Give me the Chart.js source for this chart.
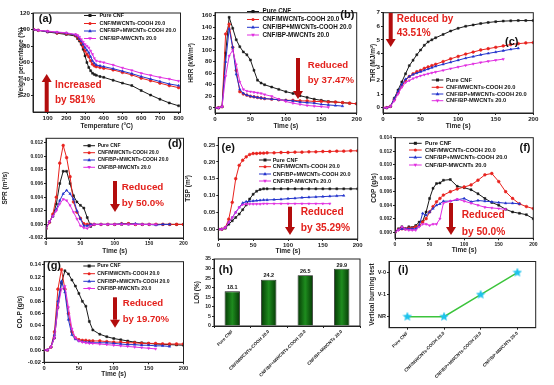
<!DOCTYPE html>
<html>
<head>
<meta charset="utf-8">
<title>CNF flame retardancy</title>
<script src="https://cdn.jsdelivr.net/npm/chart.js@4.4.1/dist/chart.umd.min.js"></script>
<style>
  body { margin: 0; background: #fff; }
  #wrap { position: relative; width: 554px; height: 385px; overflow: hidden; background: #fff; }
  #wrap canvas { position: absolute; }
</style>
</head>
<body>
<div id="wrap"></div>
<script>
// =====================================================
// DATA
// =====================================================
const sampleNames = ["Pure CNF", "CNF/MWCNTs-COOH 20.0", "CNF/BP+MWCNTs-COOH 20.0", "CNF/BP-MWCNTs 20.0"];

// (a) TGA
const tgaTemp   = [25, 50, 100, 150, 200, 250, 260, 270, 280, 290, 300, 310, 320, 330, 340, 350, 360, 380, 400, 450, 500, 550, 600, 650, 700, 750, 800];
const tgaPure   = [100, 99, 97, 95.5, 94, 92, 89, 86, 82, 76, 68, 60, 54, 50, 47, 45.5, 44.5, 43, 42, 38.5, 35, 32, 26, 20.5, 15.5, 11, 7.5];
const tgaMw     = [100, 99, 97.5, 96, 95, 93, 91, 88, 84, 79, 74, 70, 67, 62, 58, 56, 55, 54, 53, 51, 48, 45, 41, 38, 35, 32, 29.5];
const tgaBpMw   = [100, 99, 97.5, 96.5, 95.5, 93.5, 92, 89, 86, 82, 78, 75, 72, 67, 62, 59, 57, 56, 55, 52.5, 49.5, 46.5, 43, 40, 37, 34, 32];
const tgaBp     = [100, 99, 98, 97, 96, 94, 93, 91, 88, 85, 82, 80, 78, 74, 70, 65, 62, 61, 60, 57, 53.5, 50.5, 47, 44.5, 42, 40, 37.5];

// cone calorimeter time axis (s)
const timeS = [0, 5, 10, 15, 20, 25, 30, 35, 40, 45, 50, 55, 60, 65, 70, 80, 90, 100, 110, 120, 130, 140, 150, 160, 170, 180, 190, 200];

// (b) HRR
const hrrPure = [0, 0, 2, 95, 157, 138, 118, 106, 97, 92, 83, 65, 48, 43, 40, 36, 32, 28, 25, 21, 18, 15, 13, 11, 10, 9, 8, 7];
const hrrMw   = [0, 0, 2, 128, 145, 105, 65, 28, 24, 22, 20, 19, 18, 17, 16, 15, 14, 13, 13, 12, 12, 11, 11, 10, 10, 9, 8, 7];
const hrrBpMw = [0, 0, 2, 80, 137, 105, 58, 32, 25, 22, 20, 19, 18, 17, 16, 15, 14, 13, 12, 10, 9, 8, 6, 5, 4, 3];
const hrrBp   = [0, 0, 2, 55, 90, 100, 75, 45, 32, 29, 28, 27, 26, 25, 23, 20, 15, 11, 8, 6, 4, 3, 2, 1];

// (c) THR
const thrPure = [0, 0, 0.1, 0.7, 1.3, 1.9, 2.5, 3.1, 3.5, 3.9, 4.25, 4.6, 4.85, 5.0, 5.15, 5.4, 5.65, 5.85, 6.0, 6.1, 6.2, 6.28, 6.34, 6.38, 6.4, 6.42, 6.42, 6.42];
const thrMw   = [0, 0, 0.1, 0.6, 1.1, 1.6, 2.0, 2.3, 2.5, 2.65, 2.75, 2.9, 3.0, 3.1, 3.2, 3.4, 3.6, 3.78, 3.95, 4.1, 4.25, 4.35, 4.45, 4.55, 4.65, 4.72, 4.77, 4.8];
const thrBpMw = [0, 0, 0.1, 0.65, 1.2, 1.7, 2.1, 2.3, 2.45, 2.55, 2.65, 2.75, 2.85, 2.95, 3.05, 3.2, 3.35, 3.5, 3.65, 3.77, 3.9, 4.0, 4.1, 4.2, 4.3, 4.38];
const thrBp   = [0, 0, 0.1, 0.5, 1.0, 1.5, 1.85, 2.0, 2.15, 2.25, 2.35, 2.43, 2.5, 2.57, 2.63, 2.75, 2.88, 3.0, 3.12, 3.23, 3.33, 3.42, 3.5, 3.58];

// (d) SPR
const sprPure = [-0.0006, 0.0004, 0.0012, 0.003, 0.006, 0.0078, 0.0078, 0.006, 0.0042, 0.0033, 0.0028, 0.0024, 0.001, -0.0003, 0, 0, 0, 0, 0, 0.0001, 0, 0, 0, 0, 0, 0, 0, 0];
const sprMw   = [-0.0006, 0.0003, 0.0015, 0.004, 0.009, 0.0116, 0.0098, 0.007, 0.0033, 0.0018, 0.0009, 0.0001, 0, 0, 0, 0, 0, 0, 0.0001, 0.0001, 0, 0, 0, 0, 0, 0, 0, 0];
const sprBpMw = [-0.0006, 0.0004, 0.0012, 0.0022, 0.0035, 0.0045, 0.005, 0.0045, 0.0037, 0.002, 0.0008, -0.0002, -0.0002, 0, 0, 0, 0, 0, 0.0001, 0, 0.0001, 0, 0, -0.0001, 0, 0];
const sprBp   = [-0.0006, 0.0004, 0.0012, 0.002, 0.003, 0.0037, 0.0035, 0.0028, 0.0018, 0.0008, -0.0002, -0.0005, -0.0006, -0.0002, 0, 0, 0, 0, 0, 0, 0, 0, 0, 0];

// (e) TSP
const tspPure = [0, 0, 0.003, 0.015, 0.025, 0.035, 0.045, 0.058, 0.072, 0.09, 0.104, 0.113, 0.118, 0.12, 0.12, 0.12, 0.12, 0.12, 0.12, 0.12, 0.12, 0.12, 0.12, 0.12, 0.12, 0.12, 0.12, 0.12];
const tspMw   = [0, 0, 0.005, 0.03, 0.08, 0.15, 0.19, 0.205, 0.215, 0.222, 0.225, 0.225, 0.226, 0.226, 0.227, 0.227, 0.228, 0.228, 0.229, 0.229, 0.23, 0.23, 0.231, 0.231, 0.232, 0.232, 0.233, 0.233];
const tspBpMw = [0, 0, 0.005, 0.02, 0.035, 0.05, 0.065, 0.078, 0.082, 0.083, 0.084, 0.085, 0.086, 0.087, 0.087, 0.088, 0.089, 0.091, 0.092, 0.094, 0.095, 0.096, 0.097, 0.098, 0.099, 0.1];
const tspBp   = [0, 0, 0.005, 0.02, 0.035, 0.05, 0.065, 0.073, 0.075, 0.075, 0.075, 0.075, 0.075, 0.076, 0.076, 0.076, 0.076, 0.076, 0.076, 0.076, 0.076, 0.076, 0.076, 0.076];

// (f) COP
const copPure = [0, 0.0005, 0.0008, 0.0005, 0.0008, 0.0007, 0.001, 0.0015, 0.0016, 0.003, 0.005, 0.0065, 0.0072, 0.0073, 0.0077, 0.0078, 0.0068, 0.0066, 0.0063, 0.0057, 0.005, 0.0044, 0.004, 0.0034, 0.003, 0.0028, 0.0026, 0.002];
const copMw   = [0, 0.0004, 0.0005, 0.0005, 0.0006, 0.0006, 0.0008, 0.001, 0.0015, 0.002, 0.003, 0.0038, 0.0045, 0.005, 0.0055, 0.006, 0.0064, 0.0067, 0.007, 0.0077, 0.0085, 0.0087, 0.0075, 0.006, 0.005, 0.0042, 0.0038, 0.0035];
const copBpMw = [0, 0.0004, 0.0005, 0.0005, 0.0005, 0.0005, 0.0005, 0.001, 0.0028, 0.0025, 0.003, 0.0035, 0.004, 0.0042, 0.0046, 0.0046, 0.0048, 0.005, 0.0045, 0.0047, 0.0046, 0.0045, 0.0044, 0.0043, 0.0043, 0.0042];
const copBp   = [0, 0.0003, 0.0008, 0.0004, 0.0003, 0.0003, 0.0003, 0.0008, 0.0012, 0.0012, 0.001, 0.0012, 0.0012, 0.002, 0.0043, 0.0046, 0.0049, 0.0046, 0.0043, 0.004, 0.0037, 0.0036, 0.0035, 0.0034];

// (g) CO2P
const co2Pure = [0, 0, 0.005, 0.02, 0.07, 0.11, 0.13, 0.125, 0.115, 0.105, 0.093, 0.08, 0.072, 0.047, 0.033, 0.026, 0.022, 0.019, 0.017, 0.015, 0.013, 0.012, 0.011, 0.01, 0.0095, 0.009, 0.0085, 0.008];
const co2Mw   = [0, 0, 0.005, 0.03, 0.1, 0.132, 0.1, 0.06, 0.03, 0.02, 0.017, 0.016, 0.016, 0.015, 0.015, 0.015, 0.014, 0.013, 0.013, 0.012, 0.012, 0.011, 0.011, 0.011, 0.01, 0.01, 0.01, 0.01];
const co2BpMw = [0, 0, 0.005, 0.025, 0.08, 0.113, 0.095, 0.05, 0.025, 0.018, 0.015, 0.014, 0.013, 0.013, 0.012, 0.012, 0.012, 0.011, 0.01, 0.009, 0.009, 0.008, 0.008, 0.007, 0.007, 0.006];
const co2Bp   = [0, 0, 0.005, 0.02, 0.07, 0.1, 0.105, 0.07, 0.035, 0.02, 0.015, 0.013, 0.012, 0.011, 0.011, 0.01, 0.009, 0.008, 0.007, 0.006, 0.005, 0.004, 0.003, 0.002];

// (h) LOI and (i) UL-94
const loiValues = [18.1, 24.2, 26.5, 29.9];
const ulLevels = ["V-0", "V-1", "NR"];
const ulRating = ["NR", "NR", "V-1", "V-0"];

// tick values
const tgaXTicks = [100, 200, 300, 400, 500, 600, 700, 800];
const tgaYTicks = [20, 40, 60, 80, 100, 120];
const timeTicks = [0, 50, 100, 150, 200];
const hrrTicks = [0, 20, 40, 60, 80, 100, 120, 140, 160];
const thrTicks = [0, 1, 2, 3, 4, 5, 6, 7];
const sprTicks = [-0.002, 0, 0.002, 0.004, 0.006, 0.008, 0.01, 0.012];
const tspTicks = [0, 0.05, 0.1, 0.15, 0.2, 0.25];
const copTicks = [0, 0.002, 0.004, 0.006, 0.008, 0.01, 0.012, 0.014];
const co2Ticks = [-0.02, 0, 0.02, 0.04, 0.06, 0.08, 0.1, 0.12, 0.14];
const loiTicks = [0, 5, 10, 15, 20, 25, 30, 35];

// =====================================================
// HELPERS
// =====================================================
const FONT = 'Arial, "Liberation Sans", sans-serif';
const lineColors = ["#1a1a1a", "#e8221e", "#2233cc", "#e02ee0"];
const markers = [["rect", 0], ["circle", 0], ["triangle", 0], ["triangle", 180]];
const NOTE_RED = "#e3211c";
const ARROW_RED = "#b30d0d";

Chart.defaults.font.family = FONT;
Chart.defaults.font.weight = "bold";
Chart.defaults.color = "#222";

function makeCanvas(box) {
  const c = document.createElement("canvas");
  c.width = box[2];
  c.height = box[3];
  c.style.left = box[0] + "px";
  c.style.top = box[1] + "px";
  document.getElementById("wrap").appendChild(c);
  return c;
}

function mark(ctx, style, rot, x, y, r, color) {
  ctx.fillStyle = color;
  ctx.beginPath();
  if (style === "rect") ctx.rect(x - r, y - r, 2 * r, 2 * r);
  else if (style === "circle") ctx.arc(x, y, r, 0, Math.PI * 2);
  else {
    const d = rot ? -1 : 1;
    ctx.moveTo(x, y - d * r * 1.3);
    ctx.lineTo(x + r * 1.2, y + d * r * 0.8);
    ctx.lineTo(x - r * 1.2, y + d * r * 0.8);
    ctx.closePath();
  }
  ctx.fill();
}

function arrow(ctx, x, y1, y2) {
  const dir = Math.sign(y2 - y1), head = 8;
  const yh = y2 - dir * head;
  ctx.fillStyle = ARROW_RED;
  ctx.fillRect(x - 2, Math.min(y1, yh), 4, Math.abs(yh - y1));
  ctx.beginPath();
  ctx.moveTo(x - 5, yh);
  ctx.lineTo(x + 5, yh);
  ctx.lineTo(x, y2);
  ctx.closePath();
  ctx.fill();
}

function starImage(size, color) {
  const c = document.createElement("canvas");
  c.width = c.height = size;
  const g = c.getContext("2d");
  const R = size / 2, r = R * 0.45;
  g.beginPath();
  for (let k = 0; k < 10; k++) {
    const ang = -Math.PI / 2 + k * Math.PI / 5;
    const rr = k % 2 ? r : R;
    g.lineTo(R + rr * Math.cos(ang), R + rr * Math.sin(ang));
  }
  g.closePath();
  g.fillStyle = color;
  g.fill();
  return c;
}

// frame, legend, notes, arrows, panel tag
const deco = {
  id: "deco",
  afterDraw(chart, args, o) {
    const ctx = chart.ctx, a = chart.chartArea;
    const ox = o.ox || 0, oy = o.oy || 0;
    ctx.save();
    ctx.strokeStyle = "#222";
    ctx.lineWidth = 1;
    ctx.strokeRect(a.left, a.top, a.right - a.left, a.bottom - a.top);

    if (o.legend) {
      const lg = o.legend;
      chart.data.datasets.forEach((ds, i) => {
        const y = lg.ys[i] - oy;
        ctx.strokeStyle = ds.borderColor;
        ctx.lineWidth = 1;
        ctx.beginPath();
        ctx.moveTo(lg.x0 - ox, y);
        ctx.lineTo(lg.x1 - ox, y);
        ctx.stroke();
        mark(ctx, markers[i][0], markers[i][1], (lg.x0 + lg.x1) / 2 - ox, y, 1.5, ds.borderColor);
        ctx.fillStyle = "#111";
        ctx.font = "bold " + lg.fs + "px " + FONT;
        ctx.textAlign = "left";
        ctx.textBaseline = "middle";
        ctx.fillText(ds.label, lg.tx - ox, y);
      });
    }

    if (o.arrow) arrow(ctx, o.arrow.x - ox, o.arrow.y1 - oy, o.arrow.y2 - oy);

    if (o.notes) {
      ctx.fillStyle = NOTE_RED;
      ctx.font = "bold " + (o.noteSize || 10) + "px " + FONT;
      ctx.textAlign = "left";
      ctx.textBaseline = "middle";
      o.notes.forEach(n => ctx.fillText(n.t, n.x - ox, n.y - oy));
    }

    if (o.barValues) {
      const meta = chart.getDatasetMeta(0);
      ctx.fillStyle = "#111";
      ctx.font = "bold 5.5px " + FONT;
      ctx.textAlign = "center";
      ctx.textBaseline = "bottom";
      meta.data.forEach((b, i) => ctx.fillText(chart.data.datasets[0].data[i].toFixed(1), b.x, b.y - 1));
    }

    if (o.tag) {
      ctx.fillStyle = "#111";
      ctx.font = "bold 11px " + FONT;
      ctx.textAlign = "center";
      ctx.textBaseline = "middle";
      ctx.fillText(o.tag.t, o.tag.x - ox, o.tag.y - oy);
    }
    ctx.restore();
  }
};
Chart.register(deco);

function axis(o) {
  const ticks = {
    font: { size: o.fs || 6, weight: "bold" },
    color: "#222",
    padding: 1,
    autoSkip: false,
    maxRotation: o.rot || 0,
    minRotation: o.rot || 0
  };
  if (o.dec != null) ticks.callback = v => Number(v).toFixed(o.dec);

  const ax = {
    type: o.type || "linear",
    offset: !!o.offset,
    afterFit: s => {
      if (s.isHorizontal()) s.height = o.size; else s.width = o.size;
      s.paddingLeft = s.paddingRight = s.paddingTop = s.paddingBottom = 0;
    },
    grid: { drawOnChartArea: false, tickLength: 2, color: "#222" },
    border: { color: "#222" },
    ticks,
    title: {
      display: !!o.title,
      text: o.title || "",
      font: { size: 6.5, weight: "bold" },
      color: "#222",
      padding: o.tpad || 0
    }
  };
  if (o.min != null) ax.min = o.min;
  if (o.max != null) ax.max = o.max;
  if (o.labels) ax.labels = o.labels;
  if (o.ticks) ax.afterBuildTicks = s => { s.ticks = o.ticks.map(v => ({ value: v })); };
  return ax;
}

function seriesSets(xs, list) {
  return list.map((ys, i) => ({
    label: sampleNames[i],
    data: ys.map((y, j) => ({ x: xs[j], y })),
    borderColor: lineColors[i],
    backgroundColor: lineColors[i],
    borderWidth: 1,
    pointRadius: 1.4,
    pointBorderWidth: 0.5,
    pointStyle: markers[i][0],
    pointRotation: markers[i][1],
    order: 3 - i
  }));
}

function linePanel(p) {
  const [bx, by, bw, bh] = p.box, [L, T, R, B] = p.plot;
  const cv = makeCanvas(p.box);
  return new Chart(cv, {
    type: "line",
    data: { datasets: seriesSets(p.xs, p.series) },
    options: {
      responsive: false,
      animation: false,
      events: [],
      layout: { padding: { left: 0, bottom: 0, top: T - by, right: bx + bw - R } },
      plugins: {
        legend: { display: false },
        tooltip: { enabled: false },
        deco: Object.assign({ ox: bx, oy: by }, p.deco)
      },
      scales: {
        x: axis({ min: p.xMin, max: p.xMax, ticks: p.xTicks, size: by + bh - B, fs: p.fs,
                  title: p.xTitle, tpad: { bottom: by + bh - p.xTitleY - 3.9 } }),
        y: axis({ min: p.yMin, max: p.yMax, ticks: p.yTicks, size: L - bx, fs: p.fs, dec: p.dec,
                  title: p.yTitle, tpad: { top: p.yTitleX - bx - 3.9 } })
      }
    }
  });
}

// =====================================================
// PANELS
// =====================================================
linePanel({
  box: [0, 0, 185, 130], plot: [33, 13, 184, 112],
  xs: tgaTemp, series: [tgaPure, tgaMw, tgaBpMw, tgaBp],
  xMin: 22, xMax: 810, xTicks: tgaXTicks, yMin: 0, yMax: 120, yTicks: tgaYTicks, fs: 6.2,
  xTitle: "Temperature (\u00B0C)", xTitleY: 126, yTitle: "Weight percentage (%)", yTitleX: 21,
  deco: {
    legend: { x0: 84, x1: 96, tx: 99.5, ys: [15.5, 23.5, 31, 38.5], fs: 5.4 },
    tag: { t: "(a)", x: 45.5, y: 19 },
    arrow: { x: 46.7, y1: 112, y2: 74 },
    noteSize: 10,
    notes: [{ t: "Increased", x: 55, y: 85 }, { t: "by 581%", x: 55, y: 100.5 }]
  }
});

linePanel({
  box: [185, 0, 185, 130], plot: [215, 12.7, 356.7, 113],
  xs: timeS, series: [hrrPure, hrrMw, hrrBpMw, hrrBp],
  xMin: 0, xMax: 200, xTicks: timeTicks, yMin: -9, yMax: 165, yTicks: hrrTicks, fs: 6.2,
  xTitle: "Time (s)", xTitleY: 126, yTitle: "HRR (kW/m\u00B2)", yTitleX: 191.5,
  deco: {
    legend: { x0: 247, x1: 259, tx: 262.5, ys: [11.5, 19.5, 27.3, 35], fs: 6.3 },
    tag: { t: "(b)", x: 347.3, y: 15 },
    arrow: { x: 298, y1: 58, y2: 99 },
    noteSize: 9.6,
    notes: [{ t: "Reduced", x: 307.7, y: 65 }, { t: "by 37.47%", x: 307.7, y: 80.7 }]
  }
});

linePanel({
  box: [367, 0, 187, 130], plot: [383, 12.7, 533.3, 113],
  xs: timeS, series: [thrPure, thrMw, thrBpMw, thrBp],
  xMin: 0, xMax: 200, xTicks: timeTicks, yMin: -0.39, yMax: 7, yTicks: thrTicks, fs: 6.2,
  xTitle: "Time (s)", xTitleY: 126, yTitle: "THR (MJ/m\u00B2)", yTitleX: 373.3,
  deco: {
    legend: { x0: 431.7, x1: 443.3, tx: 446, ys: [80, 87.3, 94, 100.7], fs: 5.7 },
    tag: { t: "(c)", x: 511.7, y: 41.7 },
    arrow: { x: 390.7, y1: 13, y2: 47 },
    noteSize: 10,
    notes: [{ t: "Reduced by", x: 396.7, y: 19 }, { t: "43.51%", x: 396.7, y: 33.3 }]
  }
});

linePanel({
  box: [0, 127, 188, 128], plot: [46, 138.3, 185.5, 238],
  xs: timeS, series: [sprPure, sprMw, sprBpMw, sprBp],
  xMin: 0, xMax: 200, xTicks: timeTicks, yMin: -0.002, yMax: 0.01265, yTicks: sprTicks, fs: 5, dec: 3,
  xTitle: "Time (s)", xTitleY: 251, yTitle: "SPR (m\u00B2/s)", yTitleX: 5,
  deco: {
    legend: { x0: 83.3, x1: 95, tx: 97.7, ys: [145.7, 152.7, 160, 167.3], fs: 5 },
    tag: { t: "(d)", x: 175, y: 144.3 },
    arrow: { x: 115, y1: 181, y2: 212 },
    noteSize: 9.9,
    notes: [{ t: "Reduced", x: 121.7, y: 187 }, { t: "by 50.0%", x: 121.7, y: 203 }]
  }
});

linePanel({
  box: [183, 127, 187, 128], plot: [218.3, 137.7, 357.7, 239],
  xs: timeS, series: [tspPure, tspMw, tspBpMw, tspBp],
  xMin: 0, xMax: 200, xTicks: timeTicks, yMin: -0.029, yMax: 0.272, yTicks: tspTicks, fs: 6, dec: 2,
  xTitle: "Time (s)", xTitleY: 251.7, yTitle: "TSP (m\u00B2)", yTitleX: 188.5,
  deco: {
    legend: { x0: 259, x1: 271, tx: 272.7, ys: [160, 166.7, 174, 181], fs: 5.5 },
    tag: { t: "(e)", x: 228.3, y: 147.7 },
    arrow: { x: 290, y1: 206.7, y2: 235 },
    noteSize: 10.2,
    notes: [{ t: "Reduced", x: 300.7, y: 212 }, { t: "by 35.29%", x: 300.7, y: 227.7 }]
  }
});

linePanel({
  box: [370, 127, 184, 128], plot: [395, 137.7, 533.3, 238.3],
  xs: timeS, series: [copPure, copMw, copBpMw, copBp],
  xMin: 0, xMax: 200, xTicks: timeTicks, yMin: -0.0009, yMax: 0.014, yTicks: copTicks, fs: 5, dec: 3,
  xTitle: "Time (s)", xTitleY: 250, yTitle: "COP (g/s)", yTitleX: 374,
  deco: {
    legend: { x0: 409, x1: 421.7, tx: 425, ys: [143.3, 150, 157.3, 165], fs: 5.8 },
    tag: { t: "(f)", x: 525, y: 148.3 },
    arrow: { x: 451, y1: 203, y2: 235 },
    noteSize: 10.2,
    notes: [{ t: "Reduced", x: 461.7, y: 215 }, { t: "by 50.0%", x: 461.7, y: 231.7 }]
  }
});

linePanel({
  box: [0, 255, 188, 130], plot: [44, 261.7, 184, 362.3],
  xs: timeS, series: [co2Pure, co2Mw, co2BpMw, co2Bp],
  xMin: 0, xMax: 200, xTicks: timeTicks, yMin: -0.02, yMax: 0.145, yTicks: co2Ticks, fs: 5.8, dec: 2,
  xTitle: "Time (s)", xTitleY: 374.3, yTitle: "CO\u2082P (g/s)", yTitleX: 20,
  deco: {
    legend: { x0: 83.3, x1: 95, tx: 97.3, ys: [266, 273.7, 281.3, 288.5], fs: 5.1 },
    tag: { t: "(g)", x: 54, y: 265.7 },
    arrow: { x: 115, y1: 297.3, y2: 327.7 },
    noteSize: 9.6,
    notes: [{ t: "Reduced", x: 122.7, y: 303.3 }, { t: "by 19.70%", x: 122.7, y: 319.3 }]
  }
});

// (h) LOI bars
const barFill = c => {
  const el = c.element;
  if (!el || !isFinite(el.x) || !el.width) return "#0b5e0b";
  const g = c.chart.ctx.createLinearGradient(el.x - el.width / 2, 0, el.x + el.width / 2, 0);
  g.addColorStop(0, "#053905");
  g.addColorStop(0.5, "#1e8c1e");
  g.addColorStop(1, "#053905");
  return g;
};

const loiChart = new Chart(makeCanvas([185, 255, 185, 130]), {
  type: "bar",
  data: {
    labels: sampleNames,
    datasets: [{ data: loiValues, backgroundColor: barFill, borderColor: "#111", borderWidth: 0.8,
                 barPercentage: 0.42, categoryPercentage: 1 }]
  },
  options: {
    responsive: false,
    animation: false,
    events: [],
    layout: { padding: { left: 0, bottom: 0, top: 259 - 255, right: 370 - 360 } },
    plugins: {
      legend: { display: false },
      tooltip: { enabled: false },
      deco: { ox: 185, oy: 255, tag: { t: "(h)", x: 225.8, y: 270 }, barValues: true }
    },
    scales: {
      x: axis({ type: "category", offset: true, size: 385 - 326, rot: 45, fs: 4.5 }),
      y: axis({ min: 0, max: 35, ticks: loiTicks, size: 214 - 185, fs: 5.2,
                title: "LOI (%)", tpad: { top: 197.7 - 185 - 3.9 } })
    }
  }
});
loiChart.update();

// (i) vertical burning test
new Chart(makeCanvas([366, 255, 188, 130]), {
  type: "line",
  data: {
    labels: sampleNames,
    datasets: [{ data: ulRating, borderColor: "#3cc43c", borderWidth: 1.5,
                 pointStyle: starImage(10, "#1ec3ec"), pointRadius: 5 }]
  },
  options: {
    responsive: false,
    animation: false,
    events: [],
    layout: { padding: { left: 0, bottom: 0, top: 259.3 - 255, right: 554 - 535.7 } },
    plugins: {
      legend: { display: false },
      tooltip: { enabled: false },
      deco: { ox: 366, oy: 255, tag: { t: "(i)", x: 403.3, y: 270 } }
    },
    scales: {
      x: axis({ type: "category", offset: true, size: 385 - 327.7, rot: 45, fs: 4.5 }),
      y: axis({ type: "category", labels: ulLevels, offset: true, size: 389 - 366, fs: 5.5,
                title: "Vertical burning test", tpad: { top: 372 - 366 - 3.9 } })
    }
  }
});
</script>
</body>
</html>
